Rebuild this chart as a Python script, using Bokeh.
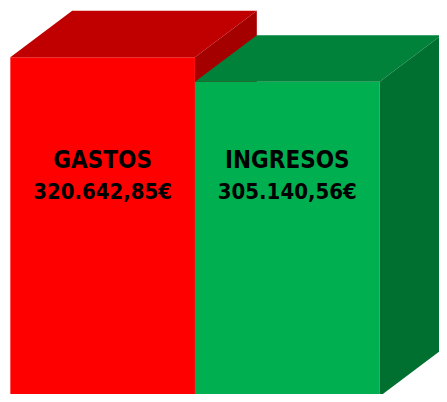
from bokeh.plotting import figure
from bokeh.models import Range1d
from bokeh.core.properties import value
from bokeh.embed import file_html
from bokeh.resources import INLINE

# ---- data ----
categories = ["GASTOS", "INGRESOS"]
values = [320642.85, 305140.56]
value_labels = ["320.642,85€", "305.140,56€"]
front_colors = ["#FF0000", "#00B050"]
top_colors = ["#C00000", "#00823A"]
side_colors = ["#A50000", "#007030"]

# ---- layout constants ----
axis_base = 106000.0          # bar baseline (just below visible area)
eur_per_px = 620.19
y_start = axis_base + 2 * eur_per_px
y_end = y_start + 402 * eur_per_px
x_start, x_end = -0.5532, 1.8245
depth_x = 0.335               # 3D depth in category units
depth_y = 47.5 * eur_per_px

label_y1 = 255500.0
label_y2 = 235700.0

p = figure(width=439, height=394, output_backend="svg", toolbar_location=None,
           x_range=Range1d(x_start, x_end), y_range=Range1d(y_start, y_end),
           min_border=0, x_axis_location=None, y_axis_location=None,
           outline_line_color=None, background_fill_color="white",
           border_fill_color="white")
p.xgrid.visible = False
p.ygrid.visible = False

for i, (cat, v) in enumerate(zip(categories, values)):
    l, r = i - 0.5, i + 0.5
    # front face
    p.quad(left=[l], right=[r], bottom=[axis_base], top=[v],
           fill_color=front_colors[i], line_color=None)
    # top face
    p.patch(x=[l, l + depth_x, r + depth_x, r],
            y=[v, v + depth_y, v + depth_y, v],
            fill_color=top_colors[i], line_color=None)
    # side face
    p.patch(x=[r, r + depth_x, r + depth_x, r],
            y=[v, v + depth_y, axis_base + depth_y, axis_base],
            fill_color=side_colors[i], line_color=None)

font = value("'DejaVu Sans Condensed', 'Liberation Sans Narrow', 'Liberation Sans', sans-serif")
xs = list(range(len(categories)))
p.text(x=xs, y=[label_y1] * len(xs), text=categories,
       text_font=font, text_font_size="24px", text_font_style="bold",
       text_align="center", text_baseline="alphabetic", text_color="black")
p.text(x=xs, y=[label_y2] * len(xs), text=value_labels,
       text_font=font, text_font_size="22px", text_font_style="bold",
       text_align="center", text_baseline="alphabetic", text_color="black")

open("out.html", "w").write(file_html(p, INLINE))
